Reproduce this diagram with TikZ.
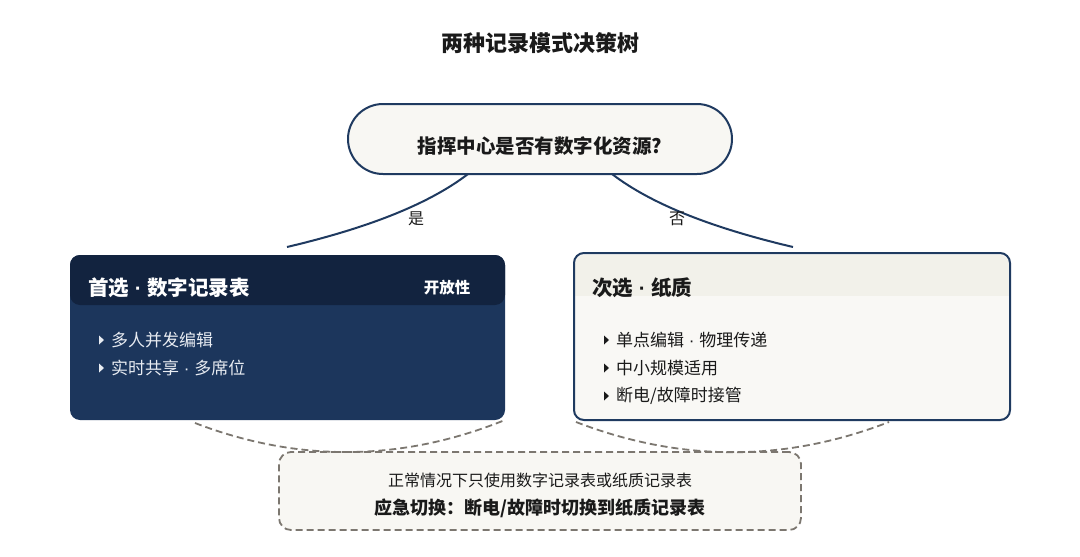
\documentclass[tikz,border=0pt]{standalone}
\usepackage{fontspec}
\setmainfont{Noto Sans CJK SC}
\newfontfamily\latinf{Liberation Sans}
\newcommand{\mdot}{{\latinf\ ·\ }}
\usetikzlibrary{calc}
\definecolor{navy}{HTML}{1F3A60}
\definecolor{hdrdark}{HTML}{12233F}
\definecolor{bodydark}{HTML}{1C365C}
\definecolor{cream}{HTML}{F8F7F3}
\definecolor{creamhdr}{HTML}{F2F1EA}
\definecolor{creambody}{HTML}{F9F8F5}
\definecolor{dashgray}{HTML}{7C7770}
\definecolor{lighttxt}{HTML}{E8ECF2}
\definecolor{darktxt}{HTML}{1A1A1A}
\tikzset{
  fs/.style={font=\fontsize{#1}{#1}\selectfont},
  pill/.style={draw=navy, line width=2pt, fill=cream, rounded corners=35pt, minimum width=384pt, minimum height=70pt, inner sep=0pt},
  branch/.style={draw=navy, line width=2pt},
  lbl/.style={fs=16, text=darktxt, inner sep=0pt},
  bodybox/.style={rounded corners=10pt, minimum width=#1, minimum height=165pt, inner sep=0pt},
  hdrbox/.style={rounded corners=10pt, minimum width=#1, minimum height=50pt, inner sep=0pt},
  bullettxt/.style={anchor=west, fs=17, inner sep=0pt},
  dashline/.style={draw=dashgray, line width=1.8pt, dash pattern=on 7pt off 4pt},
  notebox/.style={draw=dashgray, line width=1.8pt, dash pattern=on 7pt off 4pt, fill=cream, rounded corners=12pt, minimum width=522pt, minimum height=78pt, inner sep=0pt},
}
\begin{document}
\begin{tikzpicture}[x=1pt,y=-1pt]
\useasboundingbox (0,0) rectangle (1080,557);
\fill[white] (0,0) rectangle (1080,557);

% title
\node[font=\bfseries\fontsize{22}{22}\selectfont, text=darktxt] (title) at (540,43) {两种记录模式决策树};

% decision
\node[pill] (q) at (540,139) {};
\node[font=\bfseries\fontsize{19.5}{20}\selectfont, text=darktxt, inner sep=0pt] (qtext) at (540,146) {指挥中心是否有数字化资源?};

% branch ends
\coordinate (ly) at (287,247);
\coordinate (ny) at (793,247);
\draw[branch] ($(q.south)+(-72,-1)$) .. controls (429.3,203.7) and (369,227.7) .. (ly);
\draw[branch] ($(q.south)+(72,-1)$) .. controls (650.7,203.7) and (711,227.7) .. (ny);
\node[lbl] (yes) at (416,219) {是};
\node[lbl] (no) at (677,219) {否};

% left box
\node[bodybox=435pt, fill=bodydark] (dig) at (287.5,337.5) {};
\node[hdrbox=435pt, fill=hdrdark] (dighdr) at (287.5,280) {};
\node[anchor=west, font=\bfseries\fontsize{20.5}{21}\selectfont, text=white, inner sep=0pt] (digtitle) at (88,288) {首选\mdot 数字记录表};
\node[font=\bfseries\fontsize{15.5}{16}\selectfont, text=white, inner sep=0pt] (open) at (447,288) {开放性};
\fill[lighttxt] (99,335.5) -- (104,340) -- (99,344.5) -- cycle;
\fill[lighttxt] (99,363.5) -- (104,368) -- (99,372.5) -- cycle;
\node[bullettxt, text=lighttxt] (d1) at (111,340) {多人并发编辑};
\node[bullettxt, text=lighttxt] (d2) at (111,368) {实时共享\mdot 多席位};

% right box
\node[bodybox=436pt, fill=creambody, minimum height=167pt] (paper) at (792,336.5) {};
\node[hdrbox=434pt, fill=creamhdr] (paperhdr) at (792,280) {};
\fill[creambody] (575,296) rectangle (1009,306);
\node[bodybox=436pt, draw=navy, line width=2pt, minimum height=167pt] (paperframe) at (792,336.5) {};
\node[anchor=west, font=\bfseries\fontsize{20.5}{21}\selectfont, text=darktxt, inner sep=0pt] (paptitle) at (592,288) {次选\mdot 纸质};
\fill[darktxt] (604,335.5) -- (609,340) -- (604,344.5) -- cycle;
\fill[darktxt] (604,363.5) -- (609,368) -- (604,372.5) -- cycle;
\fill[darktxt] (604,391.5) -- (609,396) -- (604,400.5) -- cycle;
\node[bullettxt, text=darktxt] (p1) at (616,340) {单点编辑\mdot 物理传递};
\node[bullettxt, text=darktxt] (p2) at (616,368) {中小规模适用};
\node[bullettxt, text=darktxt] (p3) at (616,396) {断电/故障时接管};

% note box and dashed links
\node[notebox] (note) at (540,491) {};
\node[fs=16, text=darktxt, inner sep=0pt] (n1) at (540,480) {正常情况下只使用数字记录表或纸质记录表};
\node[font=\bfseries\fontsize{18}{18}\selectfont, text=darktxt, inner sep=0pt] (n2) at (540,508) {应急切换：断电/故障时切换到纸质记录表};
\coordinate (la) at (195,423);
\coordinate (lb) at (505,420);
\coordinate (ra) at (576,422);
\coordinate (rb) at (889,422);
\draw[dashline] (la) .. controls (298.3,462.7) and (401.7,461.7) .. (lb);
\draw[dashline] (ra) .. controls (680.7,462.3) and (785,462.3) .. (rb);
\end{tikzpicture}
\end{document}
